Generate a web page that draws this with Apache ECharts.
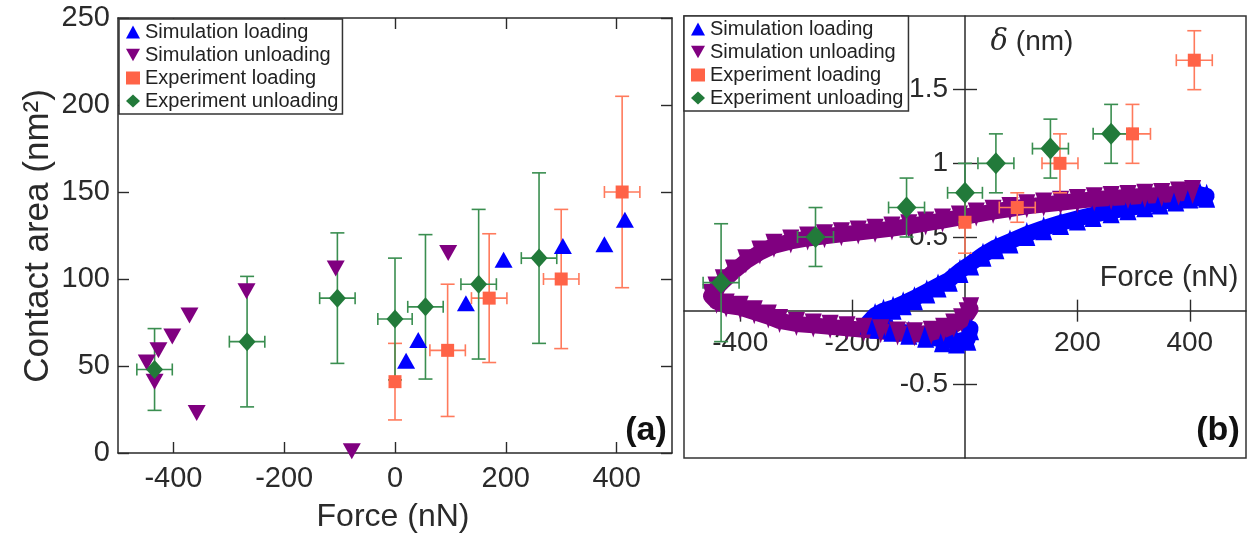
<!DOCTYPE html>
<html>
<head>
<meta charset="utf-8">
<script src="https://cdn.jsdelivr.net/npm/echarts@6/dist/echarts.min.js"></script>
<style>html,body{margin:0;padding:0;background:#fff}#c{width:1249px;height:539px}</style>
</head>
<body>
<div id="c"></div>
<script>
// ---------- Panel (a): contact area vs force ----------
const aSimLoadF = [20, 42, 128, 196, 303, 378, 415];
const aSimLoadA = [53, 65, 86, 111, 119, 120, 134];
const aSimUnloadF = [-448, -434, -427, -402, -371, -358, -268, -107, -78, 96];
const aSimUnloadA = [52, 41, 59, 67, 79, 23, 93, 106, 1, 115];
const aExpLoadF = [0, 95, 170, 300, 410];
const aExpLoadA = [41, 59, 89, 100, 150];
const aExpLoadFErr = [0, 32, 32, 32, 32];
const aExpLoadAErr = [22, 38, 37, 40, 55];
const aExpUnloadF = [-434, -267, -104, 0, 55, 151, 260];
const aExpUnloadA = [48, 64, 89, 77, 84, 97, 112];
const aExpUnloadFErr = [32, 32, 32, 31, 32, 32, 32];
const aExpUnloadAErr = [23.5, 37.5, 37.5, 35, 41.5, 43, 49];

// ---------- Panel (b): delta vs force ----------
const bSimLoadF = [10, 5, -15, -40, -70, -100, -130, -155, -172, -160, -145, -128, -110, -90, -68, -48, -28, -9, 10, 32, 55, 80, 110, 140, 170, 200, 228, 260, 290, 320, 347, 375, 400, 418, 430];
const bSimLoadD = [-0.12, -0.19, -0.21, -0.2, -0.17, -0.15, -0.13, -0.11, -0.08, -0.03, 0.0, 0.02, 0.05, 0.085, 0.13, 0.17, 0.21, 0.27, 0.32, 0.38, 0.43, 0.47, 0.52, 0.56, 0.595, 0.625, 0.65, 0.675, 0.695, 0.715, 0.735, 0.755, 0.775, 0.79, 0.78];
const bSimUnloadF = [405, 380, 350, 320, 290, 260, 230, 200, 170, 140, 110, 80, 50, 20, -10, -40, -70, -100, -130, -160, -190, -220, -250, -280, -310, -340, -365, -390, -412, -430, -443, -452, -442, -425, -400, -375, -350, -330, -300, -270, -240, -210, -180, -150, -120, -90, -60, -38, -20, -6, 4, 10];
const bSimUnloadD = [0.805, 0.795, 0.785, 0.78, 0.772, 0.765, 0.757, 0.745, 0.733, 0.72, 0.708, 0.69, 0.672, 0.652, 0.632, 0.612, 0.592, 0.573, 0.557, 0.543, 0.53, 0.518, 0.505, 0.49, 0.47, 0.44, 0.395, 0.335, 0.265, 0.2, 0.15, 0.1, 0.06, 0.035, 0.02, -0.01, -0.04, -0.07, -0.09, -0.1, -0.11, -0.12, -0.13, -0.14, -0.155, -0.16, -0.15, -0.13, -0.1, -0.065, -0.025, 0.01];
const bExpLoadF = [0, 93, 169, 298, 408];
const bExpLoadD = [0.6, 0.7, 1.0, 1.2, 1.7];
const bExpLoadFErr = [0, 32, 32, 32, 32];
const bExpLoadDErr = [0.21, 0.1, 0.2, 0.2, 0.2];
const bExpUnloadF = [-434, -266, -104, 0, 55, 152, 260];
const bExpUnloadD = [0.19, 0.5, 0.7, 0.8, 1.0, 1.1, 1.2];
const bExpUnloadFErr = [32, 32, 32, 31, 32, 32, 32];
const bExpUnloadDErr = [0.4, 0.2, 0.2, 0.2, 0.2, 0.2, 0.2];

// ---------- tick labels ----------
const aXTicks = [-400, -200, 0, 200, 400];
const bXTicks = [-400, -200, 200, 400];
const bYTicks = [-0.5, 0.5, 1, 1.5];
const names = ['Simulation loading', 'Simulation unloading', 'Experiment loading', 'Experiment unloading'];

const FONT = '"Liberation Sans", Arial, Helvetica, sans-serif';
const C_BLUE = '#0000FF', C_PURPLE = '#800080', C_ORANGE = '#FF6347', C_GREEN = '#227A3A';
const C_ORANGE_L = '#FF7A5C', C_GREEN_L = '#3A8E50';
const AX = '#2a2a2a';

const pairs = (xs, ys) => xs.map((x, i) => [x, ys[i]]);
const quads = (xs, ys, ex, ey) => xs.map((x, i) => [x, ys[i], ex[i], ey[i]]);

function errRender(params, api) {
  const x = api.value(0), y = api.value(1), ex = api.value(2), ey = api.value(3);
  const style = { stroke: api.visual('color'), lineWidth: 1.6, fill: null };
  const ch = [];
  if (ey > 0) {
    const p1 = api.coord([x, y + ey]), p2 = api.coord([x, y - ey]);
    ch.push({ type: 'line', shape: { x1: p1[0], y1: p1[1], x2: p2[0], y2: p2[1] }, style });
    ch.push({ type: 'line', shape: { x1: p1[0] - 7, y1: p1[1], x2: p1[0] + 7, y2: p1[1] }, style });
    ch.push({ type: 'line', shape: { x1: p2[0] - 7, y1: p2[1], x2: p2[0] + 7, y2: p2[1] }, style });
  }
  if (ex > 0) {
    const p1 = api.coord([x - ex, y]), p2 = api.coord([x + ex, y]);
    ch.push({ type: 'line', shape: { x1: p1[0], y1: p1[1], x2: p2[0], y2: p2[1] }, style });
    ch.push({ type: 'line', shape: { x1: p1[0], y1: p1[1] - 6, x2: p1[0], y2: p1[1] + 6 }, style });
    ch.push({ type: 'line', shape: { x1: p2[0], y1: p2[1] - 6, x2: p2[0], y2: p2[1] + 6 }, style });
  }
  return { type: 'group', children: ch };
}

const lineSt = { color: AX, width: 1.5 };
const tickSt = { color: AX, width: 1.4 };
const downTri = 'path://M0,0L20,0L10,18Z';
const hidden = { axisLine: { show: false }, axisTick: { show: false }, axisLabel: { show: false }, splitLine: { show: false } };

function legendCfg(left, top, padRight) {
  return {
    left, top, orient: 'vertical', itemGap: 3, itemWidth: 14, itemHeight: 13,
    padding: [3, padRight, 3, 7], borderColor: '#333', borderWidth: 1.5, backgroundColor: '#fff',
    selectedMode: false, z: 10,
    textStyle: { fontSize: 20, color: '#222', fontFamily: FONT },
    data: [
      { name: names[0], icon: 'triangle', itemStyle: { color: C_BLUE, opacity: 1 } },
      { name: names[1], icon: downTri, itemStyle: { color: C_PURPLE, opacity: 1 } },
      { name: names[2], icon: 'rect', itemStyle: { color: C_ORANGE, opacity: 1 } },
      { name: names[3], icon: 'diamond', itemStyle: { color: C_GREEN, opacity: 1 } }
    ]
  };
}

// panel (b) frame and axis-crossing layout
const bLeft = 684, bTop = 16, bW = 562, bH = 442;
const bXMin = -500, bXMax = 500, bYMin = -1, bYMax = 2;
const zeroRowH = bH * (bYMax - 0) / (bYMax - bYMin);
const zeroColL = bLeft + bW * (0 - bXMin) / (bXMax - bXMin);

function band(name, xs, ys, color, rotate) {
  return [
    { type: 'line', xAxisIndex: 2, yAxisIndex: 2, z: 1, symbol: 'none', silent: true,
      lineStyle: { color, width: 16, opacity: 1, join: 'round', cap: 'round' },
      data: pairs(xs, ys) },
    { name, type: 'scatter', xAxisIndex: 2, yAxisIndex: 2, z: 1,
      symbol: 'triangle', symbolRotate: rotate, symbolSize: [17, 24],
      itemStyle: { color, opacity: 1 }, data: pairs(xs, ys) }
  ];
}

const option = {
  animation: false,
  backgroundColor: '#fff',
  grid: [
    { left: 118, top: 18, width: 554, height: 435, show: false },
    { left: bLeft, top: bTop, width: bW, height: bH, show: true, borderColor: '#333', borderWidth: 1.5, backgroundColor: 'transparent' },
    { left: bLeft, top: bTop, width: bW, height: zeroRowH, show: false },
    { left: zeroColL, top: bTop, width: bLeft + bW - zeroColL, height: bH, show: false }
  ],
  legend: [legendCfg(119, 19, 4), legendCfg(684, 16, 5)],
  xAxis: [
    { gridIndex: 0, type: 'value', position: 'bottom', min: -500, max: 500,
      axisLine: { show: true, onZero: false, lineStyle: lineSt },
      axisTick: { show: true, inside: true, length: 11, lineStyle: tickSt, customValues: aXTicks },
      axisLabel: { customValues: aXTicks, fontSize: 29, color: AX, fontFamily: FONT, margin: 11 },
      splitLine: { show: false } },
    { gridIndex: 0, type: 'value', position: 'top', min: -500, max: 500,
      axisLine: { show: true, onZero: false, lineStyle: lineSt },
      axisTick: { show: true, inside: true, length: 11, lineStyle: tickSt, customValues: aXTicks },
      axisLabel: { show: false }, splitLine: { show: false } },
    Object.assign({ gridIndex: 1, type: 'value', min: bXMin, max: bXMax }, hidden),
    { gridIndex: 2, type: 'value', position: 'bottom', min: bXMin, max: bXMax,
      axisLine: { show: true, onZero: false, lineStyle: lineSt },
      axisTick: { show: true, inside: false, length: 11, lineStyle: tickSt, customValues: bXTicks },
      axisLabel: { customValues: bXTicks, fontSize: 28, color: AX, fontFamily: FONT, margin: 19 },
      splitLine: { show: false } },
    { gridIndex: 2, type: 'value', position: 'bottom', min: bXMin, max: bXMax,
      axisLine: { show: false, onZero: false },
      axisTick: { show: true, inside: true, length: 11, lineStyle: tickSt, customValues: bXTicks },
      axisLabel: { show: false }, splitLine: { show: false } },
    Object.assign({ gridIndex: 3, type: 'value', min: 0, max: bXMax }, hidden)
  ],
  yAxis: [
    { gridIndex: 0, type: 'value', position: 'left', min: 0, max: 250, interval: 50,
      axisLine: { show: true, onZero: false, lineStyle: lineSt },
      axisTick: { show: true, inside: true, length: 11, lineStyle: tickSt },
      axisLabel: { fontSize: 29, color: AX, fontFamily: FONT, margin: 8 },
      splitLine: { show: false } },
    { gridIndex: 0, type: 'value', position: 'right', min: 0, max: 250, interval: 50,
      axisLine: { show: true, onZero: false, lineStyle: lineSt },
      axisTick: { show: true, inside: true, length: 11, lineStyle: tickSt },
      axisLabel: { show: false }, splitLine: { show: false } },
    Object.assign({ gridIndex: 1, type: 'value', min: bYMin, max: bYMax }, hidden),
    Object.assign({ gridIndex: 2, type: 'value', min: 0, max: bYMax }, hidden),
    { gridIndex: 3, type: 'value', position: 'left', min: bYMin, max: bYMax,
      axisLine: { show: true, onZero: false, lineStyle: lineSt },
      axisTick: { show: true, inside: false, length: 12, lineStyle: tickSt, customValues: bYTicks },
      axisLabel: { customValues: bYTicks, fontSize: 28, color: AX, fontFamily: FONT, margin: 17 },
      splitLine: { show: false } },
    { gridIndex: 3, type: 'value', position: 'left', min: bYMin, max: bYMax,
      axisLine: { show: false, onZero: false },
      axisTick: { show: true, inside: true, length: 12, lineStyle: tickSt, customValues: bYTicks },
      axisLabel: { show: false }, splitLine: { show: false } }
  ],
  series: [
    // ----- panel (a) -----
    { name: names[0], type: 'scatter', xAxisIndex: 0, yAxisIndex: 0, z: 3,
      symbol: 'triangle', symbolSize: [18, 16], itemStyle: { color: C_BLUE, opacity: 1 },
      data: pairs(aSimLoadF, aSimLoadA) },
    { name: names[1], type: 'scatter', xAxisIndex: 0, yAxisIndex: 0, z: 3,
      symbol: 'triangle', symbolRotate: 180, symbolSize: [18, 16], itemStyle: { color: C_PURPLE, opacity: 1 },
      data: pairs(aSimUnloadF, aSimUnloadA) },
    { type: 'custom', xAxisIndex: 0, yAxisIndex: 0, z: 2, renderItem: errRender,
      itemStyle: { color: C_ORANGE_L }, encode: { x: 0, y: 1 }, clip: false,
      data: quads(aExpLoadF, aExpLoadA, aExpLoadFErr, aExpLoadAErr) },
    { type: 'custom', xAxisIndex: 0, yAxisIndex: 0, z: 2, renderItem: errRender,
      itemStyle: { color: C_GREEN_L }, encode: { x: 0, y: 1 }, clip: false,
      data: quads(aExpUnloadF, aExpUnloadA, aExpUnloadFErr, aExpUnloadAErr) },
    { name: names[2], type: 'scatter', xAxisIndex: 0, yAxisIndex: 0, z: 3,
      symbol: 'rect', symbolSize: 13, itemStyle: { color: C_ORANGE, opacity: 1 },
      data: pairs(aExpLoadF, aExpLoadA) },
    { name: names[3], type: 'scatter', xAxisIndex: 0, yAxisIndex: 0, z: 3,
      symbol: 'diamond', symbolSize: [17, 19], itemStyle: { color: C_GREEN, opacity: 1 },
      data: pairs(aExpUnloadF, aExpUnloadA) },
    // ----- panel (b) -----
    ...band(names[0], bSimLoadF, bSimLoadD, C_BLUE, 0),
    ...band(names[1], bSimUnloadF, bSimUnloadD, C_PURPLE, 180),
    { type: 'custom', xAxisIndex: 2, yAxisIndex: 2, z: 3, renderItem: errRender,
      itemStyle: { color: C_ORANGE_L }, encode: { x: 0, y: 1 }, clip: false,
      data: quads(bExpLoadF, bExpLoadD, bExpLoadFErr, bExpLoadDErr) },
    { type: 'custom', xAxisIndex: 2, yAxisIndex: 2, z: 3, renderItem: errRender,
      itemStyle: { color: C_GREEN_L }, encode: { x: 0, y: 1 }, clip: false,
      data: quads(bExpUnloadF, bExpUnloadD, bExpUnloadFErr, bExpUnloadDErr) },
    { name: names[2], type: 'scatter', xAxisIndex: 2, yAxisIndex: 2, z: 4,
      symbol: 'rect', symbolSize: 13, itemStyle: { color: C_ORANGE, opacity: 1 },
      data: pairs(bExpLoadF, bExpLoadD) },
    { name: names[3], type: 'scatter', xAxisIndex: 2, yAxisIndex: 2, z: 4,
      symbol: 'diamond', symbolSize: [20, 22], itemStyle: { color: C_GREEN, opacity: 1 },
      data: pairs(bExpUnloadF, bExpUnloadD) }
  ],
  graphic: [
    { type: 'text', x: 38, y: 236, rotation: Math.PI / 2, z: 20,
      style: { text: 'Contact area (nm²)', fontSize: 35, fontFamily: FONT, fill: AX, align: 'center', verticalAlign: 'middle' } },
    { type: 'text', x: 393, y: 517, z: 20,
      style: { text: 'Force (nN)', fontSize: 32, fontFamily: FONT, fill: AX, align: 'center', verticalAlign: 'middle' } },
    { type: 'text', x: 646, y: 431, z: 20,
      style: { text: '(a)', fontSize: 34, fontWeight: 'bold', fontFamily: FONT, fill: '#111', align: 'center', verticalAlign: 'middle' } },
    { type: 'text', x: 1169, y: 278, z: 20,
      style: { text: 'Force (nN)', fontSize: 29, fontFamily: FONT, fill: AX, align: 'center', verticalAlign: 'middle' } },
    { type: 'text', x: 1032, y: 42, z: 20,
      style: { text: '{d|δ} (nm)', fontSize: 28, fontFamily: FONT, fill: AX, align: 'center', verticalAlign: 'middle',
        rich: { d: { fontSize: 29, fontFamily: '"DejaVu Serif", "Liberation Serif", serif', fontStyle: 'italic', fill: AX } } } },
    { type: 'text', x: 1218, y: 431, z: 20,
      style: { text: '(b)', fontSize: 34, fontWeight: 'bold', fontFamily: FONT, fill: '#111', align: 'center', verticalAlign: 'middle' } }
  ]
};

const chart = echarts.init(document.getElementById('c'), null, { renderer: 'canvas' });
chart.setOption(option);
</script>
</body>
</html>
